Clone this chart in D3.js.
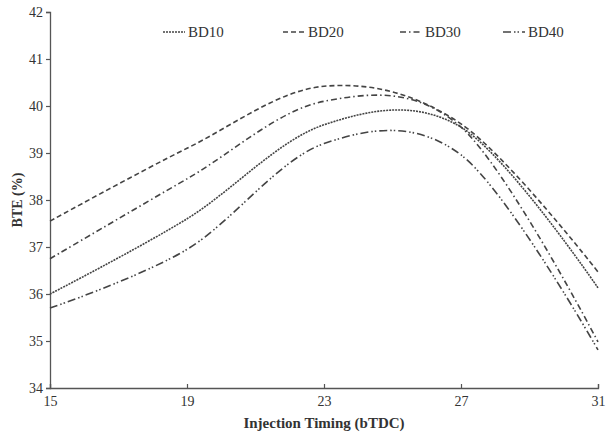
<!DOCTYPE html>
<html>
<head>
<meta charset="utf-8">
<script src="https://cdn.jsdelivr.net/npm/d3@7"></script>
<style>
  body { margin: 0; background: #fff; }
  text { font-family: "Liberation Serif", "Times New Roman", serif; fill: #333; }
</style>
</head>
<body>
<svg id="chart" width="610" height="436"></svg>
<script>
// injection timing (bTDC)
const timing = [15, 19, 23, 27, 31];
// BTE (%) per blend
const bd10 = [36.0, 37.6, 39.6, 39.55, 36.13];
const bd20 = [37.55, 39.1, 40.42, 39.62, 36.47];
const bd30 = [36.75, 38.45, 40.1, 39.55, 34.98];
const bd40 = [35.7, 36.95, 39.2, 38.96, 34.81];
const seriesNames = ["BD10", "BD20", "BD30", "BD40"];
const yTicks = [34, 35, 36, 37, 38, 39, 40, 41, 42];

const dashes = {
  BD10: "2,1",
  BD20: "5,3",
  BD30: "6,3,1.5,3",
  BD40: "8,3,1.5,2,1.5,3"
};

const margin = {top: 12, right: 12, bottom: 48, left: 50};
const width = 610 - margin.left - margin.right;
const height = 436 - margin.top - margin.bottom;

const svg = d3.select("#chart");
const g = svg.append("g").attr("transform", `translate(${margin.left},${margin.top})`);

const x = d3.scaleLinear().domain([15, 31]).range([0, width]);
const y = d3.scaleLinear().domain([34, 42]).range([height, 0]);

// axes
const yAxis = g.append("g")
    .call(d3.axisLeft(y).tickValues(yTicks).tickSize(4).tickPadding(3).tickFormat(d3.format("d")));
const xAxis = g.append("g")
    .attr("transform", `translate(0,${height})`)
    .call(d3.axisBottom(x).tickValues(timing).tickSize(-4).tickPadding(8).tickFormat(d3.format("d")));

[yAxis, xAxis].forEach(a => {
  a.select(".domain").attr("stroke", "#555").attr("stroke-width", 1.3);
  a.selectAll(".tick line").attr("stroke", "#555").attr("stroke-width", 1.2);
  a.selectAll(".tick text")
    .style("font-family", "'Liberation Serif', serif")
    .style("font-size", "14px")
    .attr("fill", "#333");
});

// lines
const data = {BD10: bd10, BD20: bd20, BD30: bd30, BD40: bd40};
const line = d3.line()
    .x((d, i) => x(timing[i]))
    .y(d => y(d))
    .curve(d3.curveCardinal.tension(0));

seriesNames.forEach(name => {
  g.append("path")
    .datum(data[name])
    .attr("d", line)
    .attr("fill", "none")
    .attr("stroke", "#444")
    .attr("stroke-width", 1.6)
    .attr("stroke-dasharray", dashes[name]);
});

// legend
const legendX = [163, 283, 400, 503];
const legend = svg.append("g");
seriesNames.forEach((name, i) => {
  const lg = legend.append("g").attr("transform", `translate(${legendX[i]},32)`);
  lg.append("line")
    .attr("x1", 0).attr("x2", 22)
    .attr("stroke", "#444").attr("stroke-width", 1.6)
    .attr("stroke-dasharray", dashes[name]);
  lg.append("text")
    .attr("x", 25).attr("y", 5)
    .style("font-size", "15px")
    .text(name);
});

// axis titles
svg.append("text")
    .attr("x", margin.left + width / 2)
    .attr("y", 428)
    .attr("text-anchor", "middle")
    .style("font-size", "15px")
    .style("font-weight", "bold")
    .text("Injection Timing (bTDC)");

svg.append("text")
    .attr("transform", `translate(22,${margin.top + height / 2}) rotate(-90)`)
    .attr("text-anchor", "middle")
    .style("font-size", "14px")
    .style("font-weight", "bold")
    .text("BTE (%)");
</script>
</body>
</html>
